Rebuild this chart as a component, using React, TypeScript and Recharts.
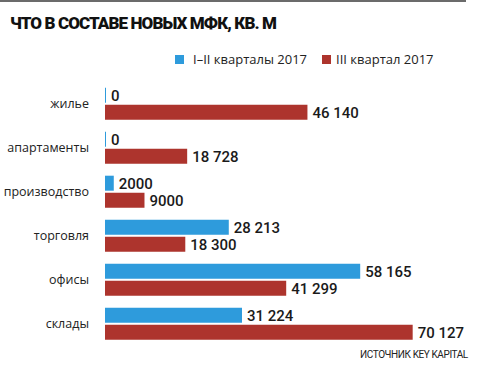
import { Bar, BarChart, LabelList, XAxis, YAxis } from "recharts";

const categories = ["жилье", "апартаменты", "производство", "торговля", "офисы", "склады"];
const firstHalf = [0, 0, 2000, 28213, 58165, 31224];
const thirdQuarter = [46140, 18728, 9000, 18300, 41299, 70127];
const seriesNames = ["I–II кварталы 2017", "III квартал 2017"];

const BLUE = "#2e9bdc";
const RED = "#ad342d";

const rows = categories.map((name, i) => ({
  name,
  a: firstHalf[i],
  b: thirdQuarter[i],
}));

// 4-digit numbers stay together, larger ones get a space separator
const fmt = (v: unknown) => {
  const n = Number(v);
  if (n < 10000) return String(n);
  return n.toLocaleString("ru-RU").replace(/\s/g, " ");
};

const labelStyle = {
  fill: "#1a1a1a",
  fontFamily: "Roboto",
  fontWeight: 500,
  fontSize: 15,
};

export default function App() {
  return (
    <div
      style={{
        position: "absolute",
        top: 0,
        left: 0,
        width: 486,
        height: 380,
        background: "#fff",
        overflow: "hidden",
      }}
    >
      <div style={{ position: "absolute", top: 0, left: 0, width: 466, height: 2, background: "#6b6b6b" }} />
      <div
        style={{
          position: "absolute",
          top: 13,
          left: 10,
          fontFamily: "Roboto",
          fontWeight: 900,
          fontSize: 17,
          color: "#111",
          letterSpacing: -0.9,
          whiteSpace: "nowrap",
        }}
      >
        ЧТО В СОСТАВЕ НОВЫХ МФК, КВ. М
      </div>
      <div
        style={{
          position: "absolute",
          top: 50,
          left: 175,
          display: "flex",
          alignItems: "center",
          fontFamily: "Open Sans",
          fontSize: 13,
          color: "#222",
          whiteSpace: "nowrap",
        }}
      >
        <span style={{ width: 9, height: 9, background: BLUE, display: "inline-block", marginRight: 9 }} />
        <span style={{ marginRight: 15 }}>{seriesNames[0]}</span>
        <span style={{ width: 9, height: 9, background: RED, display: "inline-block", marginRight: 5 }} />
        <span>{seriesNames[1]}</span>
      </div>
      <BarChart
        width={486}
        height={380}
        data={rows}
        layout="vertical"
        margin={{ top: 81.7, right: 30, bottom: 34.3, left: 0 }}
        barSize={15}
        barGap={2}
      >
        <XAxis type="number" hide domain={[0, 80000]} />
        <YAxis
          type="category"
          dataKey="name"
          width={105}
          axisLine={false}
          tickLine={false}
          tickMargin={10}
          tick={{ fill: "#222", fontFamily: "Open Sans", fontSize: 12.5 }}
        />
        <Bar dataKey="a" fill={BLUE} minPointSize={1} isAnimationActive={false}>
          <LabelList dataKey="a" position="right" offset={5} formatter={fmt} style={labelStyle} />
        </Bar>
        <Bar dataKey="b" fill={RED} isAnimationActive={false}>
          <LabelList dataKey="b" position="right" offset={5} formatter={fmt} style={labelStyle} />
        </Bar>
      </BarChart>
      <div
        style={{
          position: "absolute",
          top: 349,
          left: 360,
          fontFamily: "Roboto",
          fontSize: 10,
          color: "#222",
          letterSpacing: -0.4,
          whiteSpace: "nowrap",
        }}
      >
        ИСТОЧНИК KEY KAPITAL
      </div>
    </div>
  );
}
